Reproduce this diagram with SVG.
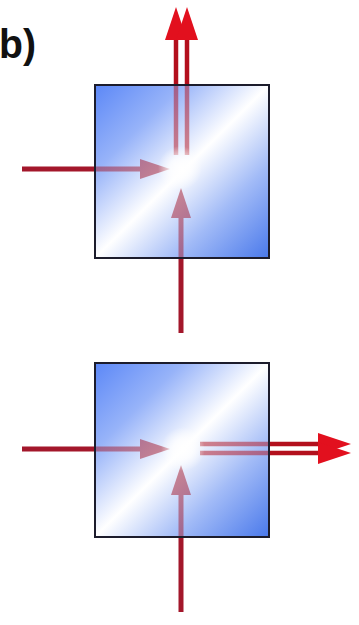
<svg xmlns="http://www.w3.org/2000/svg" xmlns:xlink="http://www.w3.org/1999/xlink" width="359" height="625" viewBox="0 0 359 625">
  <style>
    .in { stroke: #a3172b; stroke-width: 5; fill: none; }
    .out { stroke: #b3101d; stroke-width: 4.5; fill: none; }
    .border { fill: none; stroke: #1c1c2c; stroke-width: 2; }
    .label { font-family: "Liberation Sans", Arial, sans-serif; font-weight: bold; font-size: 41px; fill: #111; }
  </style>
  <defs>
    <linearGradient id="boxGrad" x1="0" y1="0" x2="1" y2="1">
      <stop offset="0" stop-color="#5c88f7"/>
      <stop offset="0.25" stop-color="#97b3f9"/>
      <stop offset="0.5" stop-color="#ffffff"/>
      <stop offset="0.73" stop-color="#a2bbf7"/>
      <stop offset="1" stop-color="#4a79eb"/>
    </linearGradient>
    <radialGradient id="glow">
      <stop offset="0" stop-color="#ffffff" stop-opacity="1"/>
      <stop offset="0.45" stop-color="#ffffff" stop-opacity="0.75"/>
      <stop offset="1" stop-color="#ffffff" stop-opacity="0"/>
    </radialGradient>
    <marker id="headIn" markerUnits="userSpaceOnUse" markerWidth="30" markerHeight="20" refX="0" refY="10" orient="auto" overflow="visible">
      <path d="M0,0 L30,10 L0,20 Z" fill="#a3172b"/>
    </marker>
    <marker id="headOut" markerUnits="userSpaceOnUse" markerWidth="33" markerHeight="22" refX="0" refY="11" orient="auto" overflow="visible">
      <path d="M0,0 L33,11 L0,22 Z" fill="#e2101e"/>
    </marker>
  </defs>

  <text class="label" x="-1" y="58" textLength="37" lengthAdjust="spacingAndGlyphs">b)</text>

  <g id="node-top">
    <rect id="box-top" x="95" y="85" width="174" height="173" fill="url(#boxGrad)"/>
  </g>
  <g id="node-bottom">
    <rect id="box-bottom" x="95" y="363" width="174" height="174" fill="url(#boxGrad)"/>
  </g>

  <g id="connectors">
    <line class="in" x1="22" y1="169" x2="140" y2="169" marker-end="url(#headIn)"/>
    <line class="in" x1="181" y1="333" x2="181" y2="218" marker-end="url(#headIn)"/>
    <line class="out" x1="176" y1="155" x2="176" y2="40" marker-end="url(#headOut)"/>
    <line class="out" x1="187" y1="155" x2="187" y2="40" marker-end="url(#headOut)"/>

    <line class="in" x1="22" y1="449" x2="140" y2="449" marker-end="url(#headIn)"/>
    <line class="in" x1="181" y1="612" x2="181" y2="495" marker-end="url(#headIn)"/>
    <line class="out" x1="200" y1="444" x2="318" y2="444" marker-end="url(#headOut)"/>
    <line class="out" x1="200" y1="453" x2="318" y2="453" marker-end="url(#headOut)"/>
  </g>

  <g id="veils">
    <use xlink:href="#box-top" href="#box-top" opacity="0.5"/>
    <use xlink:href="#box-bottom" href="#box-bottom" opacity="0.5"/>
    <circle cx="180" cy="168" r="22" fill="url(#glow)"/>
    <circle cx="183" cy="449" r="22" fill="url(#glow)"/>
    <rect class="border" x="95" y="85" width="174" height="173"/>
    <rect class="border" x="95" y="363" width="174" height="174"/>
  </g>
</svg>
